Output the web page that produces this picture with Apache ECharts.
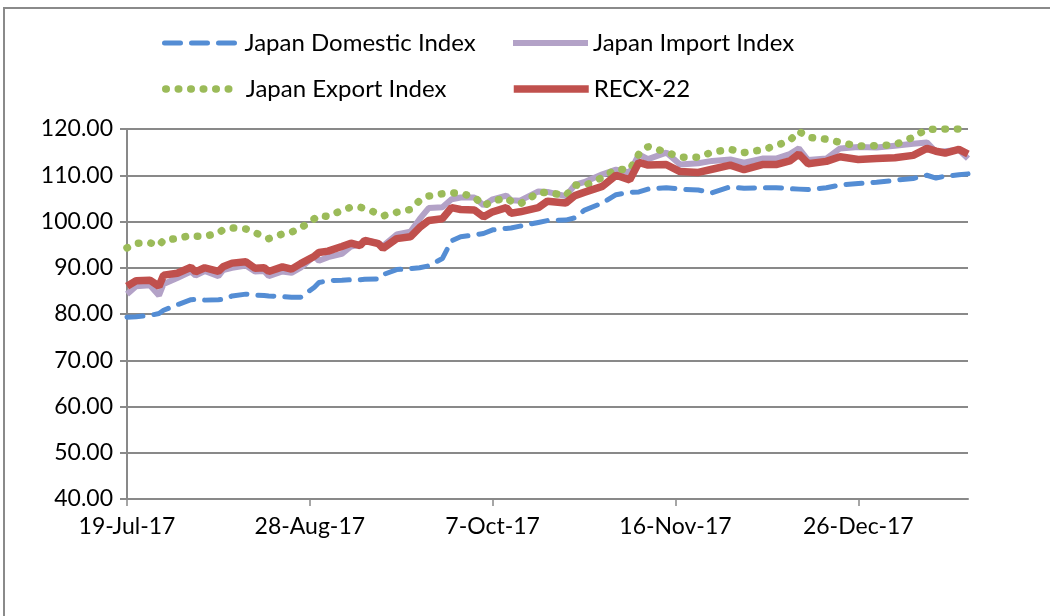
<!DOCTYPE html>
<html>
<head>
<meta charset="utf-8">
<title>Japan indices vs RECX-22</title>
<script src="https://cdn.jsdelivr.net/npm/echarts@6/dist/echarts.min.js"></script>
<style>
    html, body {
        margin: 0;
        padding: 0;
        background: #fff;
    }
    #chart {
        width: 1050px;
        height: 616px;
    }
</style>
</head>
<body>
<div id="chart"></div>
<script>
    const dates = [
        '2017-07-19', '2017-07-21', '2017-07-24', '2017-07-26', '2017-07-27', '2017-07-30', '2017-08-02', '2017-08-03', '2017-08-05', '2017-08-08',
        '2017-08-09', '2017-08-11', '2017-08-14', '2017-08-16', '2017-08-18', '2017-08-19', '2017-08-22', '2017-08-24', '2017-08-26', '2017-08-29',
        '2017-08-30', '2017-09-01', '2017-09-04', '2017-09-06', '2017-09-08', '2017-09-09', '2017-09-12', '2017-09-13', '2017-09-16', '2017-09-19',
        '2017-09-21', '2017-09-23', '2017-09-26', '2017-09-28', '2017-09-30', '2017-10-03', '2017-10-05', '2017-10-07', '2017-10-10', '2017-10-11',
        '2017-10-13', '2017-10-17', '2017-10-19', '2017-10-23', '2017-10-25', '2017-10-27', '2017-10-31', '2017-11-03', '2017-11-06', '2017-11-08',
        '2017-11-10', '2017-11-14', '2017-11-17', '2017-11-21', '2017-11-24', '2017-11-28', '2017-12-01', '2017-12-05', '2017-12-08', '2017-12-11',
        '2017-12-13', '2017-12-15', '2017-12-19', '2017-12-22', '2017-12-26', '2017-12-30', '2018-01-03', '2018-01-07', '2018-01-10', '2018-01-12',
        '2018-01-14', '2018-01-17', '2018-01-19'
    ]

    const domesticIndex = [
        79.3, 79.4, 79.7, 80.1, 80.8, 82.0, 83.1, 83.2, 83.0, 83.1,
        83.2, 83.9, 84.3, 84.1, 84.0, 83.9, 83.8, 83.6, 83.6, 85.8,
        86.8, 87.2, 87.3, 87.4, 87.4, 87.5, 87.6, 88.5, 89.6, 89.8,
        90.0, 90.4, 92.0, 95.8, 96.7, 97.1, 97.4, 98.2, 98.5, 98.6,
        99.0, 99.8, 100.2, 100.3, 100.8, 102.4, 104.0, 105.8, 106.3, 106.4,
        107.0, 107.3, 107.0, 106.8, 106.2, 107.5, 107.2, 107.3, 107.3, 107.1,
        107.0, 106.9, 107.3, 107.9, 108.2, 108.5, 108.9, 109.3, 110.0, 109.4,
        109.8, 110.1, 110.3
    ]

    const importIndex = [
        84.3, 86.0, 86.2, 84.0, 86.5, 87.8, 89.2, 88.3, 89.3, 88.2,
        89.5, 90.0, 90.5, 89.2, 89.3, 88.2, 89.2, 88.9, 90.0, 92.5,
        91.5, 92.3, 93.0, 94.6, 95.0, 96.0, 95.3, 94.7, 97.2, 97.8,
        100.5, 102.9, 103.1, 104.8, 105.2, 105.2, 103.5, 104.8, 105.6, 104.6,
        104.5, 106.5, 106.4, 105.5, 107.9, 108.5, 110.2, 111.2, 110.6, 114.5,
        113.5, 114.9, 112.3, 112.6, 113.1, 113.4, 112.7, 113.6, 113.6, 114.6,
        115.8, 113.3, 113.6, 115.8, 116.1, 116.0, 116.4, 116.8, 117.1, 115.0,
        115.2, 115.5, 113.6
    ]

    const exportIndex = [
        94.3, 95.3, 95.4, 94.8, 96.0, 96.3, 97.0, 96.8, 96.8, 97.5,
        98.2, 98.6, 98.4, 97.6, 96.7, 96.3, 97.3, 97.7, 98.6, 100.6,
        101.3, 101.1, 102.4, 103.1, 103.1, 102.8, 101.7, 101.2, 102.0, 102.6,
        104.5, 105.5, 106.0, 106.2, 106.1, 105.3, 103.4, 104.4, 105.1, 104.4,
        103.8, 106.2, 106.3, 105.6, 107.9, 107.7, 109.5, 111.3, 111.2, 114.6,
        116.2, 115.0, 113.9, 113.9, 115.0, 115.6, 114.9, 115.5, 116.4, 117.5,
        119.5, 118.2, 117.8, 117.1, 116.3, 116.4, 116.6, 118.2, 120.0, 119.9,
        120.0, 120.0, 120.0
    ]

    const recx22 = [
        86.0, 87.2, 87.3, 86.0, 88.4, 88.8, 90.1, 89.1, 90.0, 89.2,
        90.2, 91.0, 91.3, 89.9, 90.0, 89.2, 90.2, 89.7, 90.9, 92.5,
        93.3, 93.6, 94.6, 95.3, 94.8, 95.9, 95.2, 94.2, 96.3, 96.7,
        98.7, 100.2, 100.6, 103.0, 102.6, 102.5, 101.0, 102.1, 103.0, 101.8,
        102.1, 103.0, 104.4, 104.0, 105.6, 106.3, 107.6, 110.0, 109.0, 112.8,
        112.2, 112.3, 110.8, 110.6, 111.3, 112.2, 111.2, 112.3, 112.3, 113.1,
        114.6, 112.5, 113.0, 114.0, 113.4, 113.6, 113.8, 114.3, 115.8, 115.2,
        114.8, 115.6, 114.6
    ]

    // x axis runs in days from the first date, labels every 40 days like the excel chart
    const dayTicks = [0, 40, 80, 120, 160]
    const monthNames = ['Jan', 'Feb', 'Mar', 'Apr', 'May', 'Jun', 'Jul', 'Aug', 'Sep', 'Oct', 'Nov', 'Dec']
    const DAY = 86400000

    function parseDate(s) {
        const p = s.split('-')
        return Date.UTC(+p[0], +p[1] - 1, +p[2])
    }

    const start = parseDate(dates[0])

    function dayLabel(v) {
        const d = new Date(start + v * DAY)
        return d.getUTCDate() + '-' + monthNames[d.getUTCMonth()] + '-' + String(d.getUTCFullYear()).slice(2)
    }

    function toPoints(values) {
        const out = []
        for (let i = 0; i < dates.length; i++) {
            out.push([(parseDate(dates[i]) - start) / DAY, values[i]])
        }
        return out
    }

    const font = 'Lato'
    const gridColor = '#898989'

    const styles = {
        'Japan Domestic Index': { color: '#548DD4', width: 5, type: [16, 11], cap: 'round' },
        'Japan Import Index': { color: '#B3A2C7', width: 6, type: 'solid', cap: 'butt' },
        'Japan Export Index': { color: '#9BBB59', width: 7.5, type: [0.5, 12], cap: 'round' },
        'RECX-22': { color: '#C0504D', width: 7.5, type: 'solid', cap: 'butt' }
    }

    function makeLegend(name, left, top) {
        return {
            data: [name],
            left: left,
            top: top,
            padding: 0,
            itemWidth: 75,
            itemHeight: 12,
            itemStyle: { opacity: 0 },
            lineStyle: styles[name],
            textStyle: { fontFamily: font, fontSize: 24, color: '#000' }
        }
    }

    function makeSeries(name, values) {
        return {
            name: name,
            type: 'line',
            symbol: 'none',
            data: toPoints(values),
            color: styles[name].color,
            lineStyle: styles[name]
        }
    }

    const chart = echarts.init(document.getElementById('chart'))

    const option = {
        animation: false,
        backgroundColor: '#fff',
        textStyle: {
            fontFamily: font
        },
        graphic: [
            {
                type: 'rect',
                shape: { x: 4, y: 8, width: 1100, height: 700 },
                style: { fill: 'none', stroke: '#8a8a8a', lineWidth: 2 },
                silent: true,
                z: -10
            }
        ],
        legend: [
            makeLegend('Japan Domestic Index', 162, 31),
            makeLegend('Japan Import Index', 510, 31),
            makeLegend('Japan Export Index', 162, 77),
            makeLegend('RECX-22', 510, 77)
        ],
        grid: {
            left: 127,
            right: 82,
            top: 129,
            bottom: 117
        },
        xAxis: {
            type: 'value',
            min: 0,
            max: 184,
            interval: 40,
            axisLine: {
                lineStyle: { color: gridColor, width: 2 }
            },
            axisTick: {
                length: 7,
                customValues: dayTicks,
                lineStyle: { color: gridColor, width: 1.5 }
            },
            axisLabel: {
                customValues: dayTicks,
                formatter: dayLabel,
                margin: 16,
                fontFamily: font,
                fontSize: 23,
                color: '#000'
            },
            splitLine: { show: false }
        },
        yAxis: {
            type: 'value',
            min: 40,
            max: 120,
            interval: 10,
            axisLine: {
                show: true,
                lineStyle: { color: gridColor, width: 2 }
            },
            axisTick: {
                show: true,
                length: 7,
                lineStyle: { color: gridColor, width: 2 }
            },
            axisLabel: {
                formatter: function (v) { return v.toFixed(2) },
                margin: 14,
                fontFamily: font,
                fontSize: 23,
                color: '#000'
            },
            splitLine: {
                lineStyle: { color: gridColor, width: 2 }
            }
        },
        series: [
            makeSeries('Japan Domestic Index', domesticIndex),
            makeSeries('Japan Import Index', importIndex),
            makeSeries('Japan Export Index', exportIndex),
            makeSeries('RECX-22', recx22)
        ]
    }

    chart.setOption(option)
    window.addEventListener('resize', function () {
        chart.resize()
    })
</script>
</body>
</html>
